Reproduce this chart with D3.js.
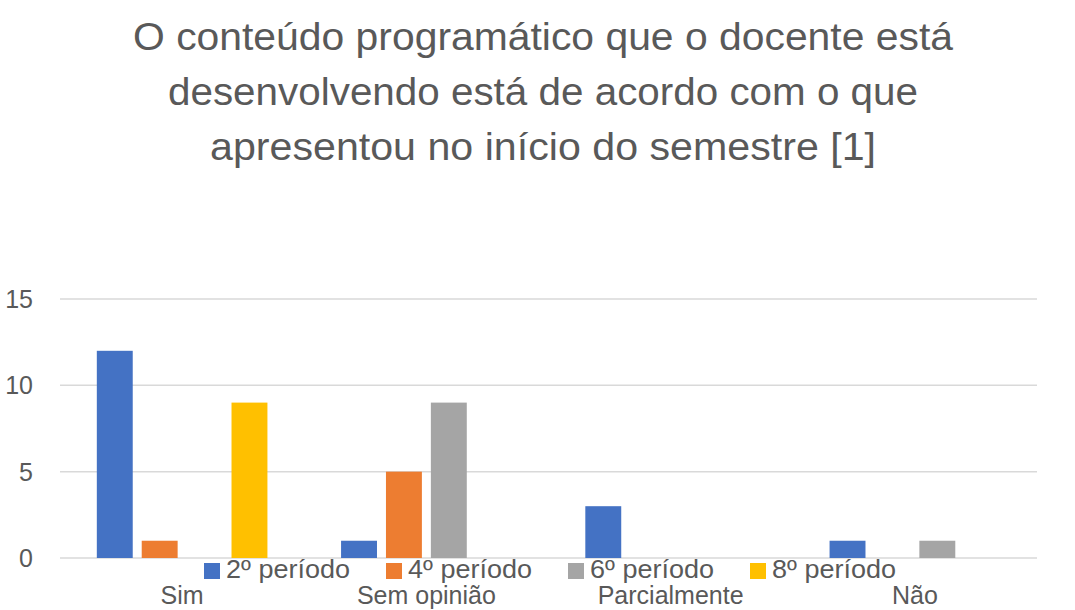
<!DOCTYPE html>
<html lang="pt">
<head>
    <meta charset="UTF-8">
    <title>Conteúdo programático</title>
    <script src="https://d3js.org/d3.v7.min.js"></script>
    <style>
        body { margin: 0; background: #fff; }
        svg text { font-family: "Liberation Sans", Arial, sans-serif; fill: #595959; }
        .grid line { stroke: #d9d9d9; stroke-width: 1.5px; }
    </style>
</head>
<body>
    <svg id="canvas" width="1075" height="610"></svg>
    <script>
        // data
        let titleLines = [
            'O conteúdo programático que o docente está',
            'desenvolvendo está de acordo com o que',
            'apresentou no início do semestre [1]'
        ];
        let categories = ['Sim', 'Sem opinião', 'Parcialmente', 'Não'];
        let series = ['2º período', '4º período', '6º período', '8º período'];
        let colors = ['#4472C4', '#ED7D31', '#A5A5A5', '#FFC000'];
        let values2 = [12, 1, 3, 1];
        let values4 = [1, 5, 0, 0];
        let values6 = [0, 9, 0, 1];
        let values8 = [9, 0, 0, 0];
        let yTicks = [0, 5, 10, 15];

        let allValues = [values2, values4, values6, values8];
        let svg = d3.select('#canvas');

        // title, squeezed to the width of the original narrow font
        let titleX = [[133, 953], [168, 918], [210, 876]];
        let titleY = [50, 105, 160];
        svg.append('g').selectAll('text')
            .data(titleLines)
            .enter()
            .append('text')
            .attr('x', function(d, i){ return titleX[i][0]; })
            .attr('y', function(d, i){ return titleY[i]; })
            .attr('textLength', function(d, i){ return titleX[i][1] - titleX[i][0]; })
            .attr('lengthAdjust', 'spacingAndGlyphs')
            .style('font-size', '38px')
            .text(function(d){ return d; });

        // scales
        let x0 = d3.scaleBand()
            .domain(categories)
            .range([60, 1037]);
        let x1 = d3.scaleBand()
            .domain(series)
            .range([0, x0.bandwidth()])
            .paddingInner(0.2)
            .paddingOuter(0.82);
        let y = d3.scaleLinear()
            .domain([0, 15])
            .range([558, 299]);

        // gridlines
        svg.append('g').attr('class', 'grid')
            .selectAll('line')
            .data(yTicks)
            .enter()
            .append('line')
            .attr('x1', 60)
            .attr('x2', 1037)
            .attr('y1', function(d){ return y(d); })
            .attr('y2', function(d){ return y(d); });

        // y axis labels
        svg.append('g').selectAll('text')
            .data(yTicks)
            .enter()
            .append('text')
            .attr('x', 33)
            .attr('y', function(d){ return y(d) + 9; })
            .attr('text-anchor', 'end')
            .style('font-size', '25px')
            .text(function(d){ return d; });

        // bars
        let groups = svg.append('g').selectAll('g')
            .data(categories)
            .enter()
            .append('g')
            .attr('transform', function(d){ return 'translate(' + x0(d) + ',0)'; });
        groups.selectAll('rect')
            .data(function(d, ci){
                return series.map(function(s, si){
                    return {s: s, v: allValues[si][ci], c: colors[si]};
                });
            })
            .enter()
            .append('rect')
            .attr('x', function(d){ return x1(d.s); })
            .attr('y', function(d){ return y(d.v); })
            .attr('width', x1.bandwidth())
            .attr('height', function(d){ return y(0) - y(d.v); })
            .attr('fill', function(d){ return d.c; });

        // category labels
        svg.append('g').selectAll('text')
            .data(categories)
            .enter()
            .append('text')
            .attr('x', function(d){ return x0(d) + x0.bandwidth() / 2; })
            .attr('y', 604)
            .attr('text-anchor', 'middle')
            .style('font-size', '25px')
            .text(function(d){ return d; });

        // legend (overlaps the axis, as in the original)
        let legend = svg.append('g').selectAll('g')
            .data(series)
            .enter()
            .append('g')
            .attr('transform', function(d, i){ return 'translate(' + (204 + i * 182) + ',563)'; });
        legend.append('rect')
            .attr('width', 16)
            .attr('height', 16)
            .attr('fill', function(d, i){ return colors[i]; });
        legend.append('text')
            .attr('x', 22)
            .attr('y', 15)
            .attr('textLength', 124)
            .attr('lengthAdjust', 'spacingAndGlyphs')
            .style('font-size', '25px')
            .text(function(d){ return d; });
    </script>
</body>
</html>
